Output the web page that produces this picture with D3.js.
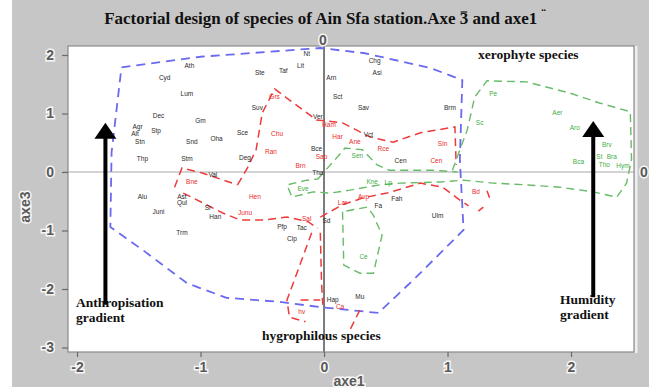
<!DOCTYPE html>
<html>
<head>
<meta charset="utf-8">
<script src="https://cdn.jsdelivr.net/npm/d3@7"></script>
<style>
  body { margin: 0; background: #fff; }
  svg { display: block; }
  .emb { fill: #5a5a5a; stroke: #f6f6f6; stroke-width: 3px; paint-order: stroke; font-family: "Liberation Sans", Arial, sans-serif; font-weight: bold; }
  .note { font-family: "Liberation Serif", "Times New Roman", serif; font-weight: bold; fill: #111; }
  .sp { font-family: "Liberation Sans", Arial, sans-serif; font-size: 6.5px; text-anchor: middle; dominant-baseline: middle; }
</style>
</head>
<body>
<svg id="chart" width="652" height="391"></svg>
<script>
// Axis ticks
const xTicks = [-2, -1, 0, 1, 2];
const yTicks = [2, 1, 0, -1, -2, -3];

// Species coordinates on the factorial plane [name, axe1, axe3]
const blackSpecies = [
  ["Ath", -1.09, 1.81], ["Cyd", -1.29, 1.61], ["Lum", -1.11, 1.33], ["Dec", -1.34, 0.96],
  ["Gm", -1.00, 0.87], ["Agr", -1.51, 0.77], ["Stp", -1.36, 0.70], ["Alt", -1.53, 0.65],
  ["Stn", -1.49, 0.51], ["Snd", -1.07, 0.50], ["Oha", -0.87, 0.56], ["Sce", -0.66, 0.67],
  ["Thp", -1.47, 0.22], ["Stm", -1.11, 0.21], ["Deg", -0.64, 0.24], ["Ste", -0.52, 1.68],
  ["Taf", -0.33, 1.73], ["Lit", -0.19, 1.81], ["Nt", -0.14, 2.02], ["Suv", -0.54, 1.09],
  ["Arn", 0.06, 1.61], ["Sct", 0.11, 1.28], ["Ver", -0.05, 0.94], ["Bce", -0.06, 0.39],
  ["Chg", 0.41, 1.90], ["Asi", 0.43, 1.69], ["Sav", 0.32, 1.09], ["Brm", 1.02, 1.09],
  ["Vct", 0.36, 0.62], ["Cen", 0.62, 0.19], ["Tha", -0.05, -0.02], ["Fa", 0.44, -0.58],
  ["Fah", 0.59, -0.46], ["Ulm", 0.92, -0.75], ["Sd", 0.02, -0.84], ["Pfp", -0.34, -0.94],
  ["Tac", -0.18, -0.97], ["Clp", -0.26, -1.15], ["Val", -0.90, -0.05], ["Alu", -1.47, -0.44],
  ["Ast", -1.15, -0.43], ["Qul", -1.15, -0.53], ["Juni", -1.34, -0.68], ["Sr", -0.94, -0.62],
  ["Han", -0.88, -0.77], ["Trm", -1.15, -1.04], ["Hap", 0.07, -2.19], ["Mu", 0.29, -2.15]
];
const redSpecies = [
  ["Grs", -0.40, 1.28], ["Chu", -0.38, 0.65], ["Ran", -0.43, 0.34], ["Brn", -0.19, 0.09],
  ["Sap", -0.02, 0.26], ["Ham", 0.04, 0.80], ["Har", 0.11, 0.60], ["Ane", 0.25, 0.50],
  ["Rce", 0.48, 0.38], ["Sin", 0.96, 0.48], ["Cen", 0.91, 0.19], ["Bne", -1.07, -0.17],
  ["Hen", -0.56, -0.44], ["Junu", -0.64, -0.70], ["Sal", -0.14, -0.80], ["Lar", 0.15, -0.53],
  ["Avp", 0.32, -0.44], ["Bd", 1.23, -0.34], ["Ca", 0.13, -2.32], ["hv", -0.18, -2.39]
];
const greenSpecies = [
  ["Sen", 0.27, 0.27], ["Eve", -0.17, -0.29], ["Kne", 0.39, -0.17], ["Lp", 0.52, -0.19],
  ["Ce", 0.32, -1.45], ["Sc", 1.26, 0.84], ["Pe", 1.37, 1.33], ["Aer", 1.89, 1.01],
  ["Aro", 2.03, 0.74], ["Brv", 2.29, 0.46], ["St", 2.23, 0.26], ["Bra", 2.33, 0.26],
  ["Bca", 2.06, 0.17], ["Tho", 2.27, 0.12], ["Hym", 2.42, 0.10]
];

// Group envelopes [axe1, axe3]
const blueHull = [
  [-1.64, 1.79], [-1.00, 1.97], [-0.48, 2.05], [-0.03, 2.12], [0.33, 2.03], [0.86, 1.78],
  [1.12, 1.57], [1.10, 0.21], [1.13, -0.99], [0.75, -1.79], [0.44, -2.41], [-0.03, -2.31],
  [-0.36, -2.22], [-0.79, -2.15], [-1.11, -1.90], [-1.47, -1.33], [-1.73, -0.94], [-1.72, 0.34],
  [-1.64, 1.79]
];
const redHulls = [
  [[-0.70, -0.22], [-0.62, 0.07], [-0.55, 0.38], [-0.50, 1.01], [-0.40, 1.42], [-0.28, 1.23],
   [-0.06, 0.89], [0.15, 0.84], [0.37, 0.60], [0.56, 0.51], [0.78, 0.67], [1.06, 0.77], [1.07, 0.12]],
  [[-1.21, -0.26], [-1.15, 0.07], [-0.98, -0.02], [-0.70, -0.22]],
  [[-1.14, -0.36], [-0.98, -0.53], [-0.82, -0.70], [-0.68, -0.82], [-0.49, -0.82], [-0.30, -0.77],
   [-0.13, -0.85], [-0.05, -0.96]],
  [[-0.10, -1.04], [-0.22, -1.73], [-0.30, -2.19], [-0.28, -2.48], [-0.15, -2.56]],
  [[-0.03, -1.04], [-0.02, -1.90], [-0.01, -2.27]],
  [[-0.03, -0.77], [0.15, -0.56], [0.32, -0.44], [0.51, -0.36], [0.78, -0.19], [0.96, -0.26],
   [1.10, -0.48], [1.17, -0.58]],
  [[1.32, -0.32], [1.34, -0.44]],
  [[1.29, -0.60], [1.25, -0.67]],
  [[-0.19, -2.19], [-0.03, -2.19]],
  [[0.29, -2.36], [0.21, -2.70]]
];
const greenHulls = [
  [[1.04, 0.03], [1.10, 0.38], [1.16, 0.72], [1.22, 1.28], [1.32, 1.56], [1.64, 1.54], [1.99, 1.35],
   [2.23, 1.18], [2.48, 1.03], [2.49, 0.21], [2.45, -0.19], [2.37, -0.43], [2.18, -0.34],
   [1.91, -0.26], [1.64, -0.22], [1.37, -0.19], [1.13, -0.14], [0.94, -0.17], [0.62, -0.19], [0.45, -0.22]],
  [[0.45, -0.22], [0.21, -0.31], [0.05, -0.36], [-0.09, -0.34], [-0.26, -0.43], [-0.30, -0.22],
   [-0.14, -0.14], [-0.05, -0.12]],
  [[-0.05, -0.12], [0.03, 0.07], [0.11, 0.26], [0.17, 0.41], [0.31, 0.38], [0.43, 0.12],
   [0.53, 0.03], [0.88, 0.03], [1.08, 0.00]],
  [[0.15, -0.68], [0.16, -1.59], [0.29, -1.73], [0.40, -1.73], [0.47, -1.08], [0.40, -0.74],
   [0.35, -0.60], [0.15, -0.68]]
];

// Gradient arrows and annotations
const arrows = [
  { axe1: -1.77, from: -2.27, to: 0.84 },
  { axe1: 2.18, from: -2.14, to: 0.87 }
];
const notes = [
  { text: "xerophyte species", axe1: 1.247, axe3: 1.93 },
  { text: "Anthropisation", axe1: -2.008, axe3: -2.31 },
  { text: "gradient", axe1: -2.008, axe3: -2.56 },
  { text: "Humidity", axe1: 1.911, axe3: -2.26 },
  { text: "gradient", axe1: 1.911, axe3: -2.51 },
  { text: "hygrophilous species", axe1: -0.502, axe3: -2.87 }
];

const svg = d3.select("#chart");
const plot = { left: 68, right: 634, top: 46, bottom: 352 };
const x = d3.scaleLinear().domain([-2.073, 2.51]).range([plot.left, plot.right]);
const y = d3.scaleLinear().domain([-3.077, 2.154]).range([plot.bottom, plot.top]);

// Window background
svg.append("rect").attr("x", 12).attr("y", 0).attr("width", 637).attr("height", 387).attr("fill", "#c6c6c6");

// Title, with a bar over the 3 and a diaeresis after axe1
const titleHead = "Factorial design of species of Ain Sfa station.Axe 3";
const title = svg.append("text").attr("class", "note").attr("x", 325).attr("y", 24)
  .attr("text-anchor", "middle").attr("font-size", 17);
title.append("tspan").text(titleHead);
title.append("tspan").text(" and axe1");
title.append("tspan").attr("dx", 4).attr("dy", -5).attr("font-size", 14).text("\u00A8");
const three = title.node().getExtentOfChar(titleHead.length - 1);
svg.append("line").attr("x1", three.x + 1).attr("x2", three.x + three.width - 1)
  .attr("y1", three.y + 3).attr("y2", three.y + 3).attr("stroke", "#111").attr("stroke-width", 1.2);

// Plot area
svg.append("rect").attr("x", plot.left).attr("y", plot.top)
  .attr("width", plot.right - plot.left).attr("height", plot.bottom - plot.top).attr("fill", "#fff");
svg.append("clipPath").attr("id", "clip").append("rect")
  .attr("x", plot.left).attr("y", plot.top)
  .attr("width", plot.right - plot.left).attr("height", plot.bottom - plot.top);

// Zero lines
svg.append("line").attr("x1", plot.left - 5).attr("x2", plot.right)
  .attr("y1", y(0)).attr("y2", y(0)).attr("stroke", "#a8a8a8").attr("stroke-width", 1);
svg.append("line").attr("x1", x(0)).attr("x2", x(0))
  .attr("y1", plot.top - 2).attr("y2", plot.bottom).attr("stroke", "#5c5c5c").attr("stroke-width", 1.6);

const g = svg.append("g").attr("clip-path", "url(#clip)");
const line = d3.line().x(d => x(d[0])).y(d => y(d[1]));

g.append("path").attr("d", line(blueHull)).attr("fill", "none")
  .attr("stroke", "#6a6aee").attr("stroke-width", 1.8).attr("stroke-dasharray", "9,6");
g.selectAll("path.red").data(redHulls).join("path").attr("class", "red")
  .attr("d", line).attr("fill", "none").attr("stroke", "#ee3a3a")
  .attr("stroke-width", 1.5).attr("stroke-dasharray", "8,5");
g.selectAll("path.green").data(greenHulls).join("path").attr("class", "green")
  .attr("d", line).attr("fill", "none").attr("stroke", "#68bb68")
  .attr("stroke-width", 1.4).attr("stroke-dasharray", "8,5");

function labels(data, color, cls) {
  g.selectAll("text." + cls).data(data).join("text").attr("class", "sp " + cls)
    .attr("x", d => x(d[1])).attr("y", d => y(d[2])).attr("fill", color).text(d => d[0]);
}
labels(blackSpecies, "#2a2a2a", "blk");
labels(redSpecies, "#ea2a2a", "rd");
labels(greenSpecies, "#3fae3f", "gr");

// Arrows
arrows.forEach(a => {
  const ax = x(a.axe1), tip = y(a.to);
  svg.append("line").attr("x1", ax).attr("x2", ax).attr("y1", y(a.from)).attr("y2", tip + 12)
    .attr("stroke", "#000").attr("stroke-width", 4);
  svg.append("path").attr("d", `M${ax},${tip} L${ax + 11},${tip + 16} L${ax - 11},${tip + 16} Z`).attr("fill", "#000");
});

// Annotations
svg.selectAll("text.ann").data(notes).join("text").attr("class", "note ann")
  .attr("x", d => x(d.axe1)).attr("y", d => y(d.axe3)).attr("font-size", 13.5).text(d => d.text);

// Frame
svg.append("line").attr("x1", plot.right + 2).attr("x2", plot.right + 2)
  .attr("y1", plot.top).attr("y2", plot.bottom + 1).attr("stroke", "#efefef").attr("stroke-width", 3);
svg.append("rect").attr("x", plot.left).attr("y", plot.top)
  .attr("width", plot.right - plot.left).attr("height", plot.bottom - plot.top)
  .attr("fill", "none").attr("stroke", "#8a8a8a").attr("stroke-width", 1.2);

// Axes
const yAxis = svg.append("g").attr("transform", `translate(${plot.left},0)`)
  .call(d3.axisLeft(y).tickValues(yTicks).tickSize(6).tickPadding(8).tickFormat(d => String(d)).tickSizeOuter(0));
const xAxis = svg.append("g").attr("transform", `translate(0,${plot.bottom})`)
  .call(d3.axisBottom(x).tickValues(xTicks).tickSize(5).tickPadding(5).tickFormat(d => String(d)).tickSizeOuter(0));
[yAxis, xAxis].forEach(ax => {
  ax.select(".domain").remove();
  ax.selectAll(".tick line").attr("stroke", "#6a6a6a").attr("stroke-width", 1.2);
  ax.selectAll(".tick text").attr("class", "emb").attr("font-size", 14);
});

// Zero markers and axis titles
svg.append("text").attr("class", "emb").attr("font-size", 14).attr("text-anchor", "middle")
  .attr("x", x(0) - 1).attr("y", plot.top - 1).text("0");
svg.append("text").attr("class", "emb").attr("font-size", 14).attr("text-anchor", "middle")
  .attr("x", plot.right + 10).attr("y", y(0) + 5).text("0");
svg.append("text").attr("class", "emb").attr("font-size", 14).attr("text-anchor", "middle")
  .attr("transform", `translate(30,${y(-0.6)}) rotate(-90)`).text("axe3");
svg.append("rect").attr("x", 0).attr("y", 387).attr("width", 652).attr("height", 4).attr("fill", "#fff");
svg.append("text").attr("class", "emb").attr("font-size", 14).attr("text-anchor", "middle")
  .attr("x", 349).attr("y", 386).text("axe1");
</script>
</body>
</html>
